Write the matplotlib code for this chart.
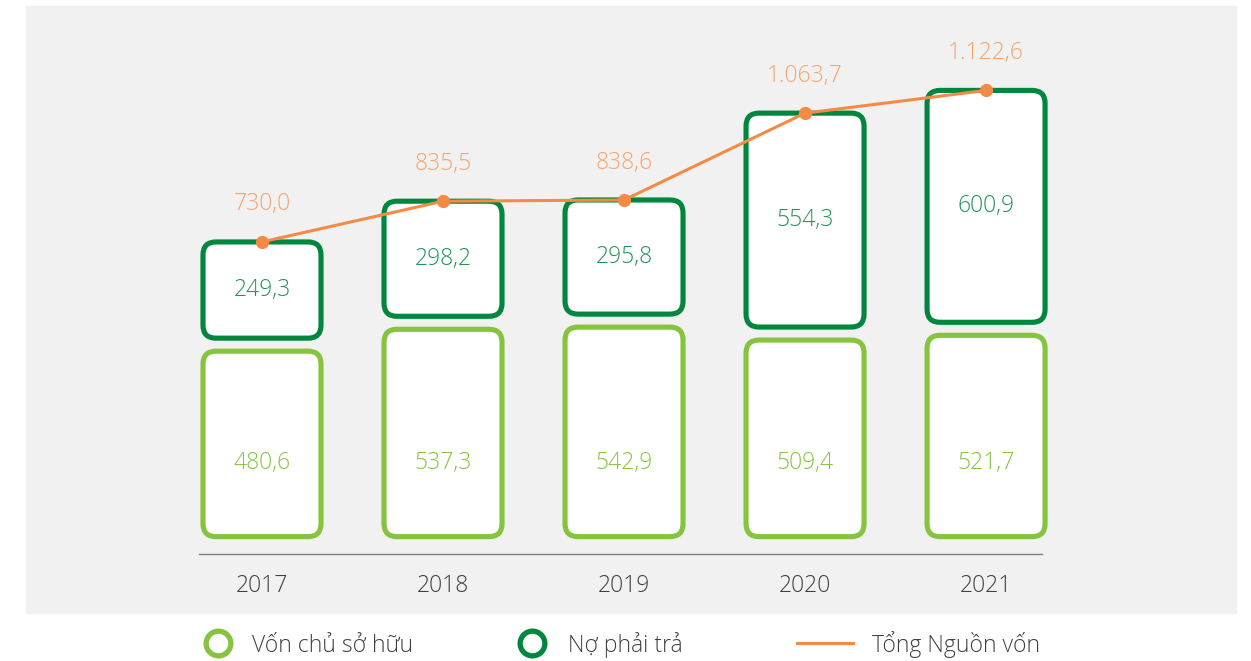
import matplotlib
matplotlib.use('Agg')
import matplotlib.pyplot as plt
from matplotlib.patches import FancyBboxPatch, Rectangle
from matplotlib.lines import Line2D
import matplotlib.transforms as mtransforms

plt.rcParams['font.family'] = ['Open Sans', 'DejaVu Sans']
plt.rcParams['font.weight'] = 'light'

years = ['2017', '2018', '2019', '2020', '2021']
equity = [480.6, 537.3, 542.9, 509.4, 521.7]
liabilities = [249.3, 298.2, 295.8, 554.3, 600.9]
totals = [730.0, 835.5, 838.6, 1063.7, 1122.6]
equity_labels = ['480,6', '537,3', '542,9', '509,4', '521,7']
liab_labels = ['249,3', '298,2', '295,8', '554,3', '600,9']
total_labels = ['730,0', '835,5', '838,6', '1.063,7', '1.122,6']

LIGHT = '#86C440'
DARK = '#00873D'
ORANGE = '#F58A47'
ORANGE_TXT = '#F5A46F'
DARK_TXT = '#239358'
GRAY_TXT = '#404040'

W, H = 1251, 661
fig = plt.figure(figsize=(W / 100, H / 100), dpi=100)
fig.patch.set_facecolor('white')
# grey panel behind the chart
bg = Rectangle((26 / W, 1 - 613 / H), 1210 / W, 607 / H,
               transform=fig.transFigure, color='#F1F1F1', zorder=-5)
fig.add_artist(bg)

ax = fig.add_axes([199 / W, 107 / H, 843 / W, 548 / H])
ax.set_zorder(1)
ax.set_facecolor('none')
ax.set_xlim(-0.348, 4.309)
ax.set_ylim(-45, 1375)
for s in ['left', 'right', 'top']:
    ax.spines[s].set_visible(False)
ax.spines['bottom'].set_color('#7F7F7F')
ax.spines['bottom'].set_linewidth(1.0)
ax.set_xticks([])
ax.set_yticks([])

# aspect between x and y data units in pixels
px_x = 843 / (4.309 + 0.348)
px_y = 548 / (1375 + 45)
asp = px_x / px_y
gap = 13 / px_y
bw = 118 / px_x
r = 13 / px_x

def rbox(x, y0, h, color):
    p = FancyBboxPatch((x - bw / 2, y0), bw, h,
                       boxstyle=f'round,pad=0,rounding_size={r}',
                       mutation_aspect=asp, facecolor='white',
                       edgecolor=color, linewidth=3.7, zorder=2, clip_on=False)
    ax.add_patch(p)

FS = 16.5
xs = list(range(len(years)))
for i in xs:
    rbox(i, 0, equity[i], LIGHT)
    rbox(i, equity[i] + gap, liabilities[i], DARK)
    ax.text(i, 190, equity_labels[i], ha='center', va='center',
            fontsize=FS, color=LIGHT, zorder=4)
    ax.text(i, equity[i] + gap + liabilities[i] / 2, liab_labels[i],
            ha='center', va='center', fontsize=FS, color=DARK_TXT, zorder=4)

line_y = [t + gap for t in totals]
ax.plot(xs, line_y, color=ORANGE, lw=2.2, marker='o', markersize=8.5,
        zorder=5, clip_on=False)
for i in xs:
    ax.annotate(total_labels[i], (i, line_y[i]), xytext=(0, 27),
                textcoords='offset points', ha='center', va='center',
                fontsize=FS, color=ORANGE_TXT, zorder=6)

trans = mtransforms.blended_transform_factory(ax.transData, ax.transAxes)
for i in xs:
    ax.text(i, -32 / 548, years[i], transform=trans, ha='center', va='center',
            fontsize=FS, color=GRAY_TXT)

# legend
ly = 1 - 643 / H
base = 1 - 652 / H
fig.add_artist(Line2D([218 / W], [ly], marker='o', markersize=17.8,
                      markerfacecolor='white', markeredgecolor=LIGHT,
                      markeredgewidth=3.8, transform=fig.transFigure))
fig.text(252 / W, base, 'Vốn chủ sở hữu', ha='left', va='baseline', fontsize=FS, color=GRAY_TXT)
fig.add_artist(Line2D([532 / W], [ly], marker='o', markersize=17.8,
                      markerfacecolor='white', markeredgecolor=DARK,
                      markeredgewidth=3.8, transform=fig.transFigure))
fig.text(568 / W, base, 'Nợ phải trả', ha='left', va='baseline', fontsize=FS, color=GRAY_TXT)
fig.add_artist(Line2D([797 / W, 853 / W], [ly, ly], color=ORANGE, lw=2.2,
                      transform=fig.transFigure))
fig.text(872 / W, base, 'Tổng Nguồn vốn', ha='left', va='baseline', fontsize=FS, color=GRAY_TXT)

fig.savefig('out.png', dpi=100)
